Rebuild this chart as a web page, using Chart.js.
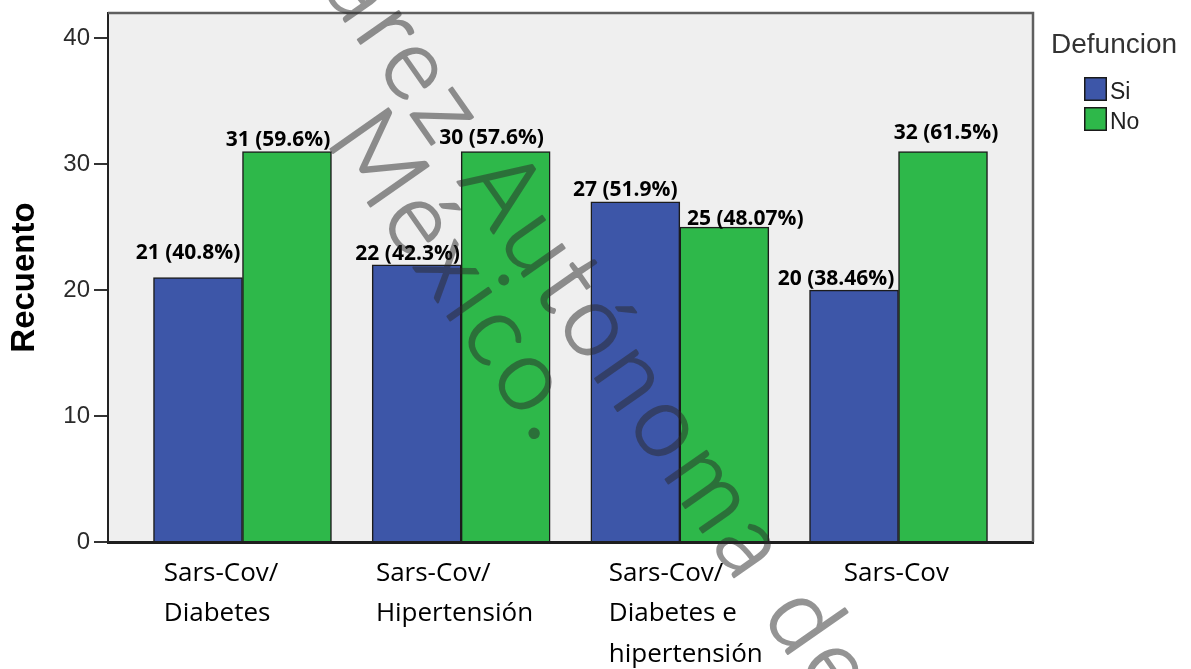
<!DOCTYPE html>
<html>
<head>
<meta charset="utf-8">
<script src="https://cdn.jsdelivr.net/npm/chart.js@4.4.1/dist/chart.umd.min.js"></script>
<style>
  html, body { margin: 0; padding: 0; background: #ffffff; }
  #wrap { width: 1191px; height: 669px; }
</style>
</head>
<body>
<div id="wrap"><canvas id="c" width="1191" height="669"></canvas></div>
<script>
// ---- data ----
const categories = [["Sars-Cov/", "Diabetes"], ["Sars-Cov/", "Hipertensión"], ["Sars-Cov/", "Diabetes e", "hipertensión"], ["Sars-Cov"]];
const seriesNames = ["Si", "No"];
const siValues = [21, 22, 27, 20];
const noValues = [31, 31, 25, 31];
const siLabels = ["21 (40.8%)", "22 (42.3%)", "27 (51.9%)", "20 (38.46%)"];
const noLabels = ["31 (59.6%)", "30 (57.6%)", "25 (48.07%)", "32 (61.5%)"];
const yTicks = [0, 10, 20, 30, 40];
const yTitle = "Recuento";
const legendTitle = "Defuncion";
const watermarkLines = ["Universidad Juárez Autónoma de", "México."];

// ---- styles ----
const colors = ["#3D56A8", "#2EB84A"];
const xLabelShift = [-0.36, -0.39, -0.325, -0.25];
const labelNudge = [
  [[-10, -24], [-9, -11], [-10, -12], [-18, -11]],
  [[-9, -12], [-14, -14], [21, -8], [3, -19]]
];

const framePlugin = {
  id: 'frame',
  beforeDraw(chart) {
    const { ctx, chartArea: ca } = chart;
    ctx.save();
    ctx.fillStyle = '#EFEFEF';
    ctx.fillRect(ca.left, ca.top, ca.width, ca.height);
    ctx.restore();
  },
  beforeDatasetsDraw(chart) {
    const { ctx, chartArea: ca } = chart;
    ctx.save();
    ctx.strokeStyle = '#5f5f5f';
    ctx.lineWidth = 2.5;
    ctx.beginPath();
    ctx.moveTo(ca.left, ca.top);
    ctx.lineTo(ca.right, ca.top);
    ctx.lineTo(ca.right, ca.bottom);
    ctx.stroke();
    ctx.restore();
  }
};

const valueLabelPlugin = {
  id: 'valueLabels',
  afterDatasetsDraw(chart) {
    const ctx = chart.ctx;
    const texts = [siLabels, noLabels];
    ctx.save();
    ctx.font = 'bold 21px "Open Sans", sans-serif';
    ctx.fillStyle = '#000';
    ctx.textAlign = 'center';
    ctx.textBaseline = 'middle';
    chart.data.datasets.forEach((ds, di) => {
      chart.getDatasetMeta(di).data.forEach((bar, i) => {
        const [dx, dy] = labelNudge[di][i];
        ctx.fillText(texts[di][i], bar.x + dx, bar.y + dy);
      });
    });
    ctx.restore();
  }
};

const legendPlugin = {
  id: 'legendBox',
  afterDraw(chart) {
    const { ctx, chartArea: ca } = chart;
    ctx.save();
    ctx.textAlign = 'left';
    ctx.textBaseline = 'alphabetic';
    ctx.font = '28px "Liberation Sans", Arial, sans-serif';
    ctx.fillStyle = '#333';
    ctx.fillText(legendTitle, ca.right + 18, 53);
    chart.data.datasets.forEach((ds, i) => {
      const y = 77 + i * 30;
      ctx.fillStyle = ds.backgroundColor;
      ctx.fillRect(ca.right + 51, y, 23, 24);
      ctx.strokeStyle = '#1a1a1a';
      ctx.lineWidth = 1.5;
      ctx.strokeRect(ca.right + 51.75, y + 0.75, 21.5, 22.5);
      ctx.fillStyle = '#222';
      ctx.font = '23px "Liberation Sans", Arial, sans-serif';
      ctx.fillText(ds.label, ca.right + 77, y + 22);
    });
    ctx.restore();
  }
};

const watermarkPlugin = {
  id: 'watermark',
  afterDraw(chart) {
    const ctx = chart.ctx;
    const off = document.createElement('canvas');
    off.width = chart.width;
    off.height = chart.height;
    const oc = off.getContext('2d');
    const fam = 'Lato, "Open Sans", sans-serif';
    const size = 100;
    oc.font = '300 ' + size + 'px ' + fam;
    const w = s => oc.measureText(s).width;
    const ref = 'rez Autónoma';
    const span = w(ref) - w('r') / 2 - w('a') / 2;
    const ls = Math.max(0, (630 - span) / (ref.length - 1));
    const capH = oc.measureText('M').actualBoundingBoxAscent;
    const ang = 55 * Math.PI / 180;
    const draw = (text, key, cx, cy) => {
      const idx = text.indexOf(key);
      const pre = w(text.slice(0, idx)) + ls * idx;
      const half = w(key[0]) / 2;
      oc.save();
      oc.translate(cx, cy);
      oc.rotate(ang);
      oc.letterSpacing = ls + 'px';
      oc.fillStyle = '#2a2a2a';
      oc.strokeStyle = '#2a2a2a';
      oc.lineWidth = 2.2;
      oc.lineJoin = 'round';
      oc.textAlign = 'left';
      oc.textBaseline = 'alphabetic';
      oc.fillText(text, -(pre + half), capH / 2);
      oc.strokeText(text, -(pre + half), capH / 2);
      oc.restore();
    };
    draw(watermarkLines[0], 'Autónoma', 505, 187);
    draw(watermarkLines[1], 'México', 380, 157);
    ctx.save();
    ctx.globalAlpha = 0.5;
    ctx.drawImage(off, 0, 0);
    ctx.restore();
  }
};

new Chart(document.getElementById('c'), {
  type: 'bar',
  data: {
    datasets: [
      {
        label: seriesNames[0],
        data: siValues.map((v, i) => ({ x: i, y: v })),
        backgroundColor: colors[0],
        borderColor: '#1c1c1c',
        borderWidth: 1.5,
        barThickness: 89
      },
      {
        label: seriesNames[1],
        data: noValues.map((v, i) => ({ x: i, y: v })),
        backgroundColor: colors[1],
        borderColor: '#1c1c1c',
        borderWidth: 1.5,
        barThickness: 89
      }
    ]
  },
  options: {
    responsive: false,
    animation: false,
    events: [],
    layout: { padding: { left: 0, right: 158, top: 13, bottom: 0 } },
    plugins: {
      legend: { display: false },
      tooltip: { enabled: false }
    },
    scales: {
      x: {
        type: 'linear',
        offset: false,
        min: -0.615,
        max: 3.615,
        grid: { display: false, drawTicks: false, tickLength: 0, offset: false },
        border: { display: true, color: '#1e1e1e', width: 3 },
        afterBuildTicks(scale) {
          scale.ticks = categories.map((c, i) => ({ value: i + xLabelShift[i] }));
        },
        afterFit(scale) {
          scale.height = 127;
          scale.paddingLeft = 0;
          scale.paddingRight = 0;
        },
        ticks: {
          align: 'start',
          autoSkip: false,
          maxRotation: 0,
          minRotation: 0,
          padding: 12,
          color: '#000',
          font: { family: '"Open Sans", sans-serif', size: 26, lineHeight: 1.54 },
          callback: (value, index) => categories[index]
        }
      },
      y: {
        min: 0,
        max: 42,
        grid: { display: true, drawOnChartArea: false, drawTicks: true, tickLength: 14, color: '#333', lineWidth: 2 },
        border: { display: true, color: '#222', width: 2 },
        afterBuildTicks(scale) {
          scale.ticks = yTicks.map(v => ({ value: v }));
        },
        afterFit(scale) {
          scale.width = 108;
          scale.paddingTop = 0;
          scale.paddingBottom = 0;
        },
        ticks: {
          padding: 4,
          color: '#2a2a2a',
          font: { family: '"Liberation Sans", Arial, sans-serif', size: 24 },
          callback: v => String(v)
        },
        title: {
          display: true,
          text: yTitle,
          color: '#000',
          font: { family: '"Liberation Sans", Arial, sans-serif', size: 33, weight: 'bold' },
          padding: { top: 5, bottom: 0 }
        }
      }
    }
  },
  plugins: [framePlugin, valueLabelPlugin, legendPlugin, watermarkPlugin]
});
</script>
</body>
</html>
